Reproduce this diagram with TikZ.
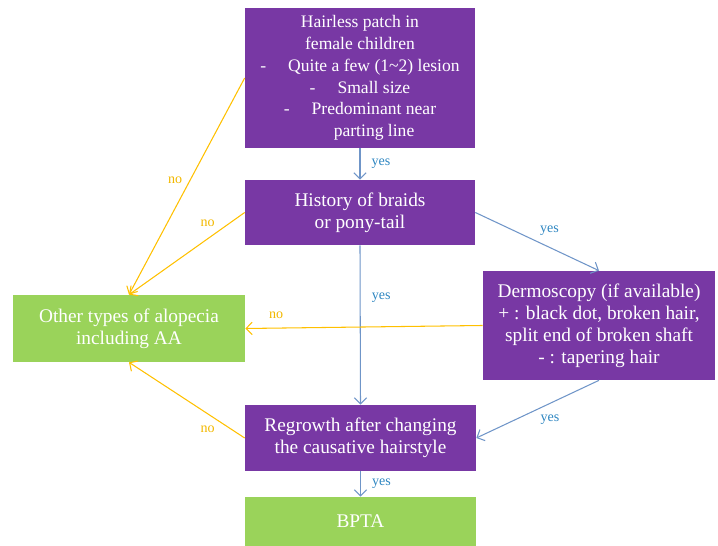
\documentclass[tikz,border=0pt]{standalone}
\usepackage{fontspec}
\setmainfont{Liberation Serif}
\usetikzlibrary{arrows.meta}
\definecolor{boxpurple}{HTML}{7838A4}
\definecolor{boxgreen}{HTML}{9AD35A}
\definecolor{noline}{HTML}{FFC000}
\definecolor{notext}{HTML}{F2B800}
\definecolor{yesline}{HTML}{6F95C8}
\definecolor{yestext}{HTML}{2E86C1}

\begin{document}
\begin{tikzpicture}[x=0.02cm, y=-0.02cm,
    purplebox/.style={fill=boxpurple, text=white, align=center, inner sep=0pt, font=\fontsize{11}{12.6}\selectfont},
    greenbox/.style={fill=boxgreen, text=white, align=center, inner sep=0pt, font=\fontsize{11}{12.6}\selectfont},
    yesarrow/.style={draw=yesline, line width=0.6pt, -{Straight Barb[length=3.5pt,width=7pt]}},
    noarrow/.style={draw=noline, line width=0.6pt, -{Straight Barb[length=3.5pt,width=7pt]}},
    yeslabel/.style={text=yestext, font=\fontsize{8}{9}\selectfont},
    nolabel/.style={text=notext, font=\fontsize{8}{9}\selectfont}]
    \useasboundingbox (0,0) rectangle (718,546);
    \node[purplebox, minimum width=4.6cm, minimum height=2.8cm, font=\fontsize{10}{12.4}\selectfont] (hair) at (360,78)
        {Hairless patch in\\female children\\-\hspace{1.25em}Quite a few (1\textasciitilde2) lesion\\-\hspace{1.25em}Small size\\-\hspace{1.25em}Predominant near\\\hspace*{1.6em}parting line};
    \node[purplebox, minimum width=4.6cm, minimum height=1.3cm] (history) at (360,212.5) {History of braids\\or pony-tail};
    \node[greenbox, minimum width=4.64cm, minimum height=1.34cm] (other) at (129,328.5) {Other types of alopecia\\including AA};
    \node[purplebox, minimum width=4.64cm, minimum height=2.18cm] (dermo) at (599,325.5)
        {Dermoscopy (if available)\\+ : black dot, broken hair,\\split end of broken shaft\\- : tapering hair};
    \node[purplebox, minimum width=4.62cm, minimum height=1.32cm] (regrowth) at (360.5,438) {Regrowth after changing\\the causative hairstyle};
    \node[greenbox, minimum width=4.62cm, minimum height=0.98cm] (bpta) at (360.5,521.5) {BPTA};

    \draw[yesarrow] (hair.south) -- (history.north) node[yeslabel, midway, right=3pt] {yes};
    \draw[yesarrow] (history.south) -- (regrowth.north) node[yeslabel, pos=0.33, right=3pt] {yes};
    \draw[yesarrow] (regrowth.south) -- (bpta.north) node[yeslabel, midway, right=3pt] {yes};
    \draw[yesarrow] (history.east) -- (dermo.north) node[yeslabel, pos=0.6, above=3pt] {yes};
    \draw[yesarrow] (dermo.south) -- (regrowth.east) node[yeslabel, pos=0.4, below=3pt] {yes};

    \draw[noarrow] (hair.west) -- (other.north) node[nolabel, pos=0.47, left=1pt] {no};
    \draw[noarrow] (history.west) -- (other.north) node[nolabel, pos=0.32, above=3pt] {no};
    \draw[noarrow] (dermo.west) -- (other.east) node[nolabel, pos=0.87, above=2pt] {no};
    \draw[noarrow] (regrowth.west) -- (other.south) node[nolabel, pos=0.32, below=3pt] {no};
\end{tikzpicture}
\end{document}
